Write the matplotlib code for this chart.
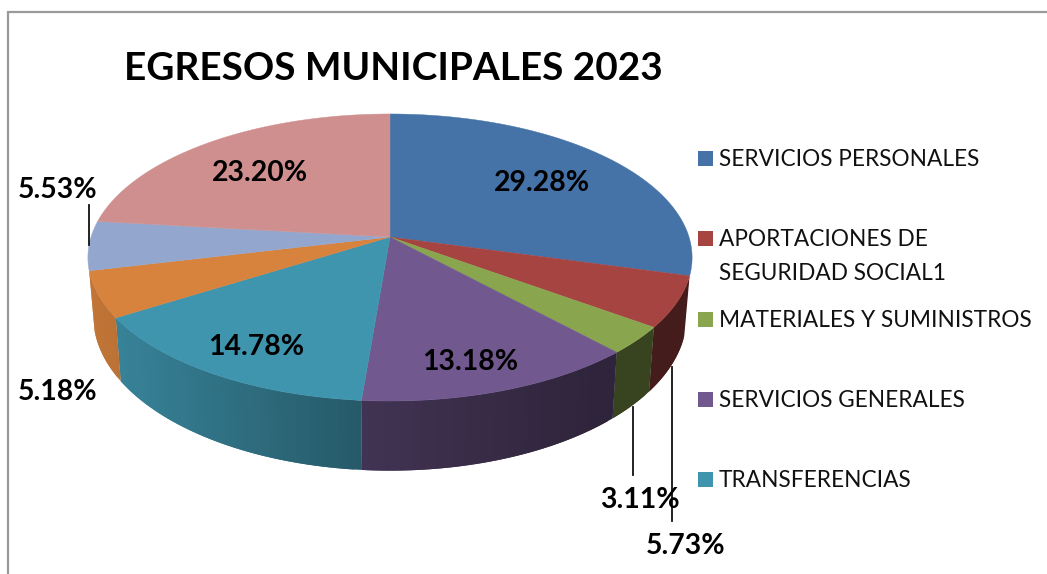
import numpy as np
import matplotlib
matplotlib.use("Agg")
import matplotlib.pyplot as plt
from matplotlib.patches import Polygon, Rectangle

title = "EGRESOS MUNICIPALES 2023"
values = [29.28, 5.73, 3.11, 13.18, 14.78, 5.18, 5.53, 23.20]
colors = ["#4572A7", "#A64442", "#89A54E", "#71588F", "#3F95AE", "#D7823D", "#93A7CE", "#CF8F8E"]
legend_names = ["SERVICIOS PERSONALES", "APORTACIONES DE\nSEGURIDAD SOCIAL1",
                "MATERIALES Y SUMINISTROS", "SERVICIOS GENERALES", "TRANSFERENCIAS"]
legend_y = [158.5, 238.5, 319.5, 399.5, 479.5]
value_label_px = [(542, 183), (686, 546), (640, 500), (470, 362), (256, 347), (58, 392), (58, 190), (260, 173)]
wall_slices = [1, 2, 3, 4, 5]

plt.rcParams["font.family"] = ["Lato", "DejaVu Sans"]
W, H = 1047, 574
fig = plt.figure(figsize=(W / 100, H / 100), dpi=100)
ax = fig.add_axes([0, 0, 1, 1])
ax.set_xlim(0, W)
ax.set_ylim(H, 0)
ax.axis("off")

# perspective projection of a unit disc
CX, CY, A, B, K = 390.0, 237.0, 299.0, 140.6, 1 / 7


def top(theta):
    u, v = np.sin(theta), np.cos(theta)
    d = 1 + K * v
    return CX + A * u / d, CY - B * v / d


def bottom(theta):
    x, y = top(theta)
    return CX + (x - CX) * 0.982, y + 63.6 + (y - 320) * 0.074


def shade(x):
    return np.interp(x, [88, 120, 361, 362, 600, 700], [0.90, 0.87, 0.60, 0.58, 0.41, 0.41])


total = sum(values)
edges = np.concatenate([[0], np.cumsum(values)]) / total * 2 * np.pi
rgb = [np.array(matplotlib.colors.to_rgb(c)) for c in colors]

# side walls: each strip overlaps the next one so no seams show
for i in wall_slices:
    ths = np.linspace(edges[i], edges[i + 1], max(int(values[i] * 3), 4))
    for j in range(len(ths) - 1):
        a = ths[j]
        b = ths[min(j + 2, len(ths) - 1)]
        mid = (ths[j] + ths[j + 1]) / 2
        pts_t = [top(t) for t in np.linspace(a, b, 5)]
        pts_b = [bottom(t) for t in np.linspace(b, a, 5)]
        c = rgb[i] * shade(top(mid)[0])
        ax.add_patch(Polygon(pts_t + pts_b, closed=True, facecolor=c, edgecolor="none", zorder=2))

# top faces
for i, val in enumerate(values):
    ths = np.linspace(edges[i], edges[i + 1], max(int(val * 8), 6))
    xs, ys = top(ths)
    pts = [(CX, CY)] + list(zip(xs, ys))
    ax.add_patch(Polygon(pts, closed=True, facecolor=colors[i], edgecolor=colors[i],
                         linewidth=0.3, zorder=3))

# frame
frame = "#9A9A9A"
ax.plot([8, 8, W], [H, 12, 12], color=frame, lw=1.6, zorder=1, solid_joinstyle="miter")

# leader lines
for x, y0, y1 in [(89, 205, 245), (632.5, 407, 475), (672, 367, 521)]:
    ax.plot([x, x], [y0, y1], color="#111111", lw=1.3, zorder=4)

ax.text(393.5, 66, title, fontsize=27.9, fontweight="bold", color="black",
        ha="center", va="center_baseline", zorder=6)

for val, (x, y) in zip(values, value_label_px):
    ax.text(x, y, f"{val:.2f}%", fontsize=20.4, fontweight="bold", color="black",
            ha="center", va="center", zorder=6)

for name, y, c in zip(legend_names, legend_y, colors):
    ax.add_patch(Rectangle((698, y - 7.5), 15, 15, facecolor=c, edgecolor="none", zorder=5))
    ax.text(719, y + 1.2, name.split("\n")[0], fontsize=16.3, color="#111111",
            ha="left", va="center", zorder=6)
    if "\n" in name:
        ax.text(719, y + 34.5, name.split("\n")[1], fontsize=16.3, color="#111111",
                ha="left", va="center", zorder=6)

fig.savefig("out.png", dpi=100)
